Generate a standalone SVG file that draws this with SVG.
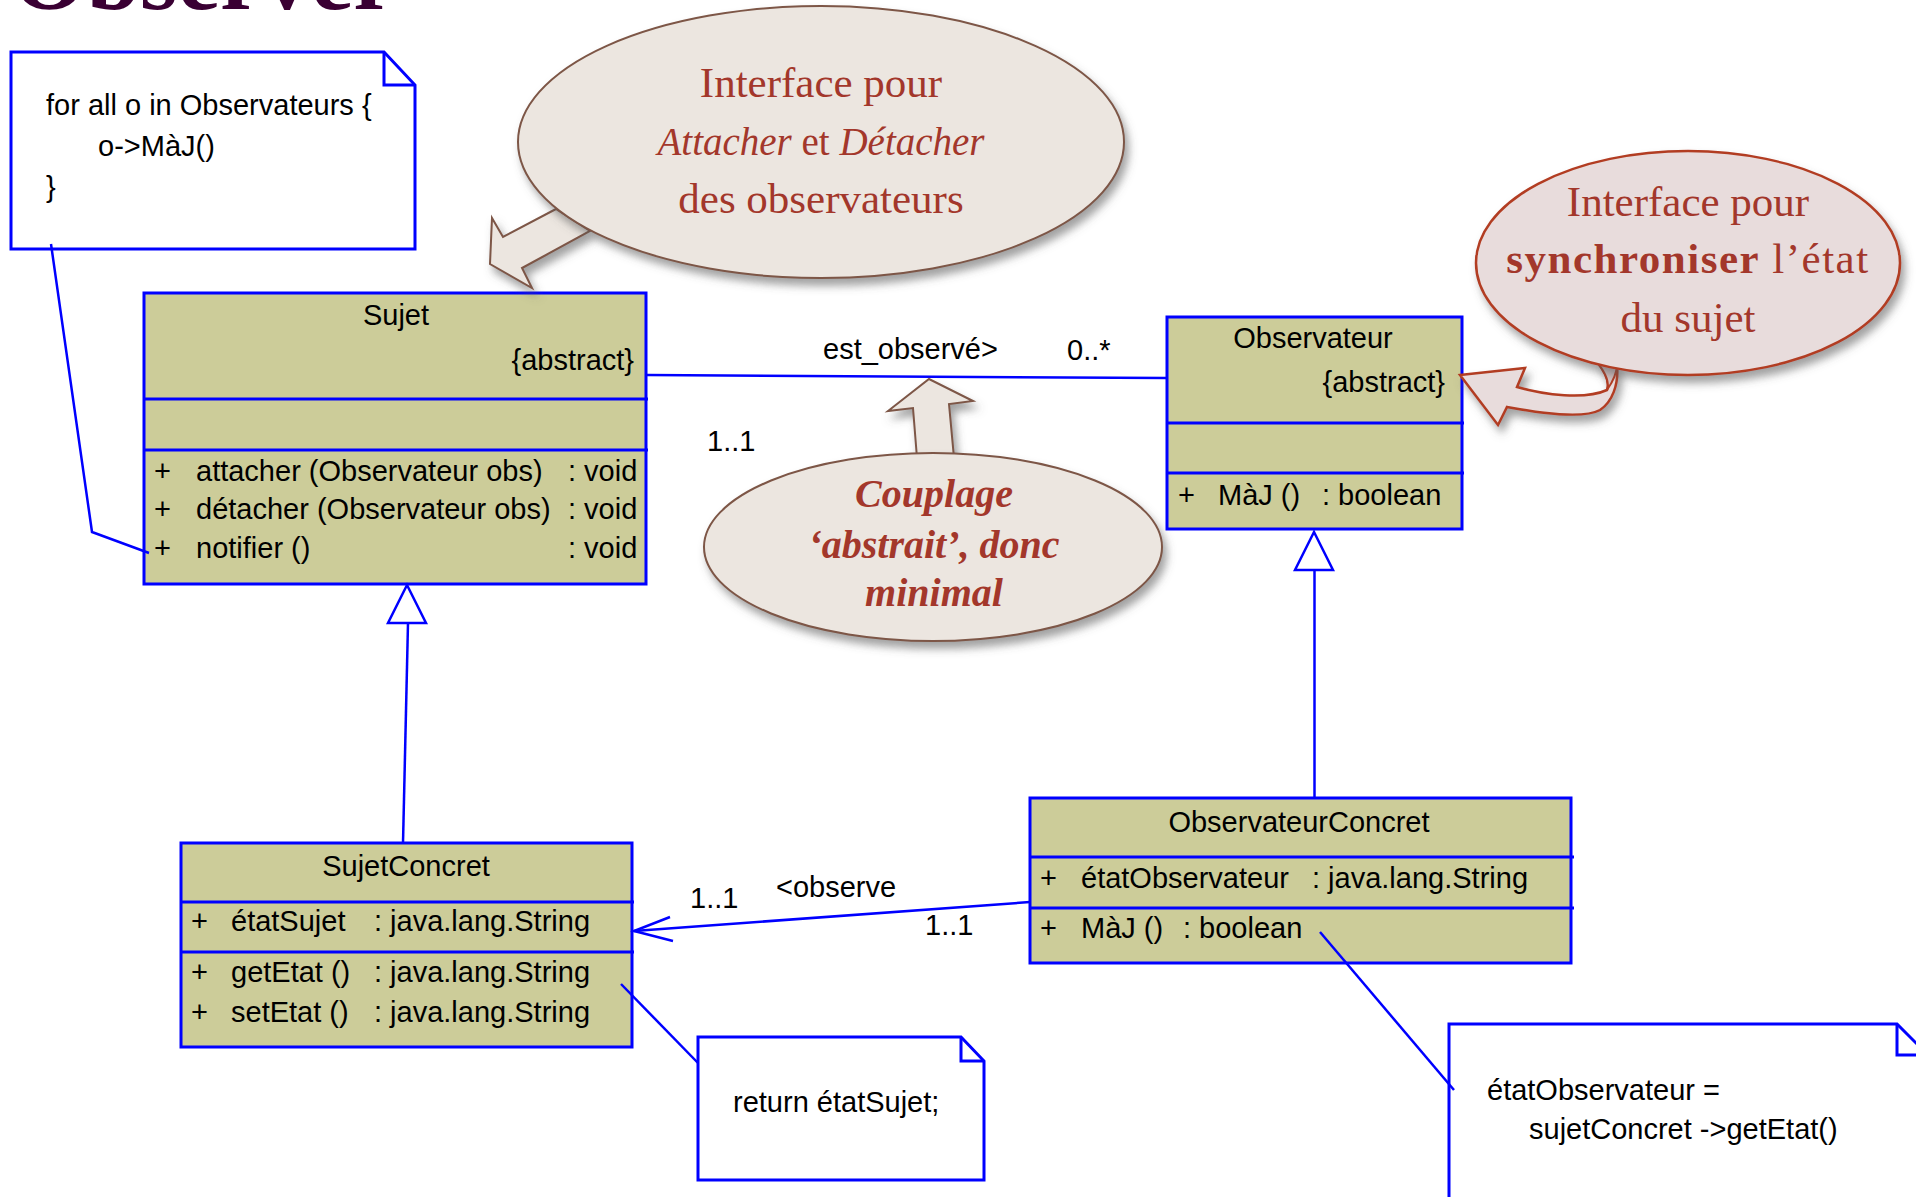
<svg xmlns="http://www.w3.org/2000/svg" width="1916" height="1197" viewBox="0 0 1916 1197">
<defs>
<style>
.box{fill:#cccc99;stroke:#0000ff;stroke-width:3}
.div{stroke:#0000ff;stroke-width:3;fill:none}
.note{fill:#ffffff;stroke:#0000ff;stroke-width:3}
.ln{stroke:#0000ff;stroke-width:2.5;fill:none}
.tri{fill:#ffffff;stroke:#0000ff;stroke-width:2.5}
.t{font-family:"Liberation Sans",Arial,sans-serif;font-size:29px;fill:#000}
.c{text-anchor:middle}
.e{text-anchor:end}
.call{font-family:"Liberation Serif","Times New Roman",serif;font-size:43px;fill:#a3372b;text-anchor:middle}
.cp{font-size:40px;font-style:italic;font-weight:bold}
.bub1{fill:#ece6e0;stroke:#7d5646;stroke-width:2}
.bub3{fill:#e8dcdc;stroke:#b23c22;stroke-width:2.5}
</style>
<filter id="sh" x="-20%" y="-20%" width="140%" height="150%">
<feDropShadow dx="4" dy="7" stdDeviation="4" flood-color="#555" flood-opacity="0.55"/>
</filter>
</defs>

<text x="12" y="9" font-family="Liberation Serif,serif" font-weight="bold" font-size="96" fill="#3a0033">Observer</text>

<g id="note-notifier">
<path class="note" d="M11,52 L384,52 L415,85 L415,249 L11,249 Z"/>
<path class="div" d="M384,52 L384,85 L415,85"/>
<text class="t" x="46" y="115">for all  o in Observateurs {</text>
<text class="t" x="98" y="156">o-&gt;MàJ()</text>
<text class="t" x="46" y="197">}</text>
</g>

<g id="Sujet">
<rect class="box" x="144" y="293" width="502" height="291"/>
<line class="div" x1="144" y1="399" x2="648" y2="399"/>
<line class="div" x1="144" y1="450" x2="648" y2="450"/>
<text class="t c" x="396" y="325">Sujet</text>
<text class="t e" x="634" y="370">{abstract}</text>
<text class="t" x="154" y="481">+</text>
<text class="t" x="196" y="481">attacher (Observateur obs)</text>
<text class="t" x="568" y="481">: void</text>
<text class="t" x="154" y="519">+</text>
<text class="t" x="196" y="519">détacher (Observateur obs)</text>
<text class="t" x="568" y="519">: void</text>
<text class="t" x="154" y="558">+</text>
<text class="t" x="196" y="558">notifier ()</text>
<text class="t" x="568" y="558">: void</text>
</g>

<g id="Observateur">
<rect class="box" x="1167" y="317" width="295" height="212"/>
<line class="div" x1="1167" y1="423" x2="1464" y2="423"/>
<line class="div" x1="1167" y1="473" x2="1464" y2="473"/>
<text class="t c" x="1313" y="348">Observateur</text>
<text class="t e" x="1445" y="392">{abstract}</text>
<text class="t" x="1178" y="505">+</text>
<text class="t" x="1218" y="505">MàJ ()</text>
<text class="t" x="1322" y="505">: boolean</text>
</g>

<g id="SujetConcret">
<rect class="box" x="181" y="843" width="451" height="204"/>
<line class="div" x1="181" y1="902" x2="634" y2="902"/>
<line class="div" x1="181" y1="952" x2="634" y2="952"/>
<text class="t c" x="406" y="876">SujetConcret</text>
<text class="t" x="191" y="931">+</text>
<text class="t" x="231" y="931">étatSujet</text>
<text class="t" x="374" y="931">: java.lang.String</text>
<text class="t" x="191" y="982">+</text>
<text class="t" x="231" y="982">getEtat ()</text>
<text class="t" x="374" y="982">: java.lang.String</text>
<text class="t" x="191" y="1022">+</text>
<text class="t" x="231" y="1022">setEtat ()</text>
<text class="t" x="374" y="1022">: java.lang.String</text>
</g>

<g id="ObservateurConcret">
<rect class="box" x="1030" y="798" width="541" height="165"/>
<line class="div" x1="1030" y1="857" x2="1574" y2="857"/>
<line class="div" x1="1030" y1="908" x2="1574" y2="908"/>
<text class="t c" x="1299" y="832">ObservateurConcret</text>
<text class="t" x="1040" y="888">+</text>
<text class="t" x="1081" y="888">étatObservateur</text>
<text class="t" x="1312" y="888">: java.lang.String</text>
<text class="t" x="1040" y="938">+</text>
<text class="t" x="1081" y="938">MàJ ()</text>
<text class="t" x="1183" y="938">: boolean</text>
</g>

<g id="note-getEtat">
<path class="note" d="M698,1037 L961,1037 L984,1061 L984,1180 L698,1180 Z"/>
<path class="div" d="M961,1037 L961,1061 L984,1061"/>
<text class="t" x="733" y="1112">return étatSujet;</text>
</g>

<g id="note-maj">
<path class="note" d="M1449,1210 L1449,1024 L1897,1024 L1928,1055 L1928,1210"/>
<path class="div" d="M1897,1024 L1897,1055 L1928,1055"/>
<text class="t" x="1487" y="1100">étatObservateur =</text>
<text class="t" x="1529" y="1139">sujetConcret -&gt;getEtat()</text>
</g>

<g id="connectors">
<polyline class="ln" points="51,244 92,532 149,553"/>
<line class="ln" x1="647" y1="375" x2="1167" y2="378"/>
<polyline class="ln" points="403,843 408,623"/>
<polygon class="tri" points="407,585 388,623 426,623"/>
<polyline class="ln" points="1314.5,798 1314.5,570"/>
<polygon class="tri" points="1314,532 1295,570 1333,570"/>
<line class="ln" x1="1030" y1="902" x2="634" y2="931"/>
<polyline class="ln" points="670,917 634,931 673,941"/>
<line class="ln" x1="621" y1="984" x2="698" y2="1063"/>
<line class="ln" x1="1320" y1="932" x2="1454" y2="1090"/>
<text class="t" x="823" y="359">est_observé&gt;</text>
<text class="t" x="1067" y="360">0..*</text>
<text class="t" x="707" y="451">1..1</text>
<text class="t" x="690" y="908">1..1</text>
<text class="t" x="776" y="897">&lt;observe</text>
<text class="t" x="925" y="935">1..1</text>
</g>

<g id="callout-attacher">
<path class="bub1" filter="url(#sh)" d="M556,209 L503,237 L492,218 L490,264 L532,288 L522,268 L590,231 Z"/>
<ellipse class="bub1" filter="url(#sh)" cx="821" cy="142" rx="303" ry="136"/>
<text class="call" x="821" y="97">Interface pour</text>
<text class="call" x="821" y="155" style="font-size:39px"><tspan font-style="italic">Attacher</tspan> et <tspan font-style="italic">Détacher</tspan></text>
<text class="call" x="821" y="213">des observateurs</text>
</g>

<g id="callout-couplage">
<path class="bub1" filter="url(#sh)" d="M917,458 L913,408 L888,411 L929,379 L973,401 L949,404 L954,458 Z"/>
<ellipse class="bub1" filter="url(#sh)" cx="933" cy="547" rx="229" ry="94"/>
<text class="call cp" x="934" y="507">Couplage</text>
<text class="call cp" x="934" y="558">‘abstrait’, donc</text>
<text class="call cp" x="934" y="606">minimal</text>
</g>

<g id="callout-synchro">
<path class="bub3" filter="url(#sh)" d="M1460,375 L1525,368 L1517,387 C1545,395 1585,400 1607,390 C1610,382 1605,372 1597,362 L1617,364 C1619,385 1612,402 1600,410 C1585,418 1550,415 1507,407 L1498,425 Z"/>
<path d="M1597,362 C1605,372 1610,382 1607,390 C1614,380 1617,372 1617,364 Z" fill="#d6c4c4" stroke="#b23c22" stroke-width="2"/>
<ellipse class="bub3" filter="url(#sh)" cx="1688" cy="263" rx="212" ry="112"/>
<text class="call" x="1688" y="216">Interface pour</text>
<text class="call" x="1688" y="273" letter-spacing="1.5"><tspan font-weight="bold">synchroniser</tspan> l’état</text>
<text class="call" x="1688" y="332">du sujet</text>
</g>
</svg>
